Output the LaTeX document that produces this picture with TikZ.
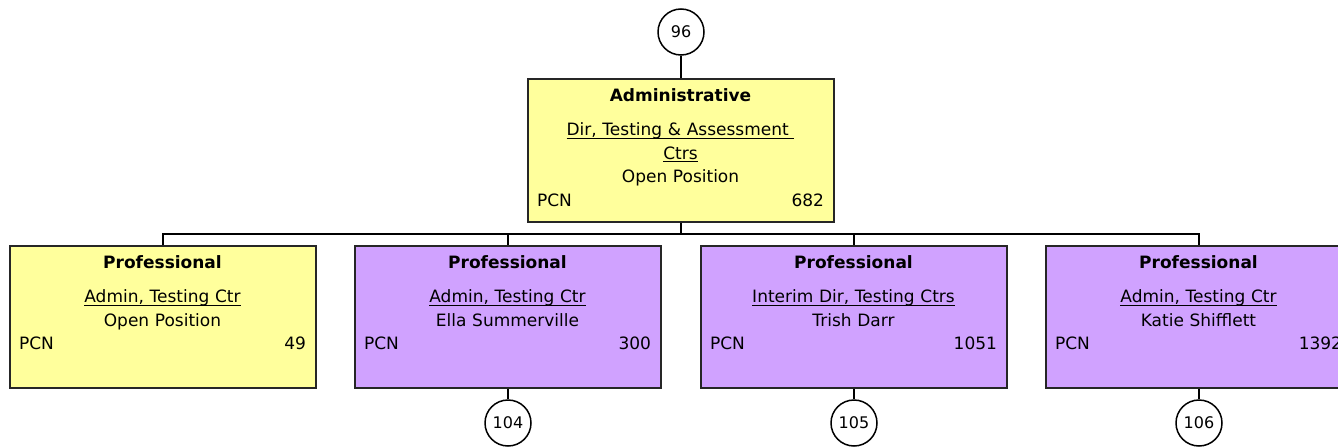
\documentclass[tikz,border=0pt]{standalone}
\usepackage{fontspec}
\setmainfont{DejaVu Sans}
\usetikzlibrary{positioning}
\definecolor{admcol}{HTML}{FFFF9C}
\definecolor{profcol}{HTML}{D0A2FF}
\newsavebox{\posbox}
\newcommand{\ttl}[1]{\textbf{#1}}
\newcommand{\pos}[1]{\leavevmode\sbox{\posbox}{#1}\rlap{\rule[-3pt]{\wd\posbox}{1.2pt}}\usebox{\posbox}}
\newcommand{\pcn}[1]{PCN\hfill #1}

\begin{document}
\begin{tikzpicture}[x=1pt,y=1pt,line width=1.5pt,
  box/.style={draw=black!85,minimum width=306pt,minimum height=142pt,inner sep=0pt},
  adm/.style={box,fill=admcol},
  prof/.style={box,fill=profcol},
  txt/.style={anchor=north,text width=287pt,align=center,inner sep=0pt,
    font=\fontsize{17}{23.5}\selectfont},
  num/.style={circle,draw,fill=white,minimum size=46pt,inner sep=0pt,
    font=\fontsize{16}{18}\selectfont}]
\clip (0,0) rectangle (1338,-447);
% top position
\node[num] (c96) at (681,-32) {96};
\node[adm,minimum height=143pt] (top) at (681,-150.5) {};
\node[txt] (topt) at ([xshift=-0.5pt,yshift=-10pt]top.north)
  {\ttl{Administrative}\\[10.5pt]\pos{Dir, Testing \& Assessment\ }\\\pos{Ctrs}\\Open Position\\\pcn{682}};
% reports
\node[adm] (p1) at (163,-317) {};
\node[prof] (p2) at (508,-317) {};
\node[prof] (p3) at (854,-317) {};
\node[prof] (p4) at (1199,-317) {};
\node[txt] (p1t) at ([xshift=-0.5pt,yshift=-10pt]p1.north)
  {\ttl{Professional}\\[10.5pt]\pos{Admin, Testing Ctr}\\Open Position\\\pcn{49}};
\node[txt] (p2t) at ([xshift=-0.5pt,yshift=-10pt]p2.north)
  {\ttl{Professional}\\[10.5pt]\pos{Admin, Testing Ctr}\\Ella Summerville\\\pcn{300}};
\node[txt] (p3t) at ([xshift=-0.5pt,yshift=-10pt]p3.north)
  {\ttl{Professional}\\[10.5pt]\pos{Interim Dir, Testing Ctrs}\\Trish Darr\\\pcn{1051}};
\node[txt] (p4t) at ([xshift=-0.5pt,yshift=-10pt]p4.north)
  {\ttl{Professional}\\[10.5pt]\pos{Admin, Testing Ctr}\\Katie Shifflett\\\pcn{1392}};
\node[num] (c104) at (508,-423) {104};
\node[num] (c105) at (854,-423) {105};
\node[num] (c106) at (1199,-423) {106};
% connectors
\coordinate (bus) at (681,-234);
\draw (c96) -- (top);
\draw (top) -- (bus);
\foreach \p in {p1,p2,p3,p4} \draw (bus) -| (\p);
\draw (p2) -- (c104); \draw (p3) -- (c105); \draw (p4) -- (c106);
\end{tikzpicture}
\end{document}
